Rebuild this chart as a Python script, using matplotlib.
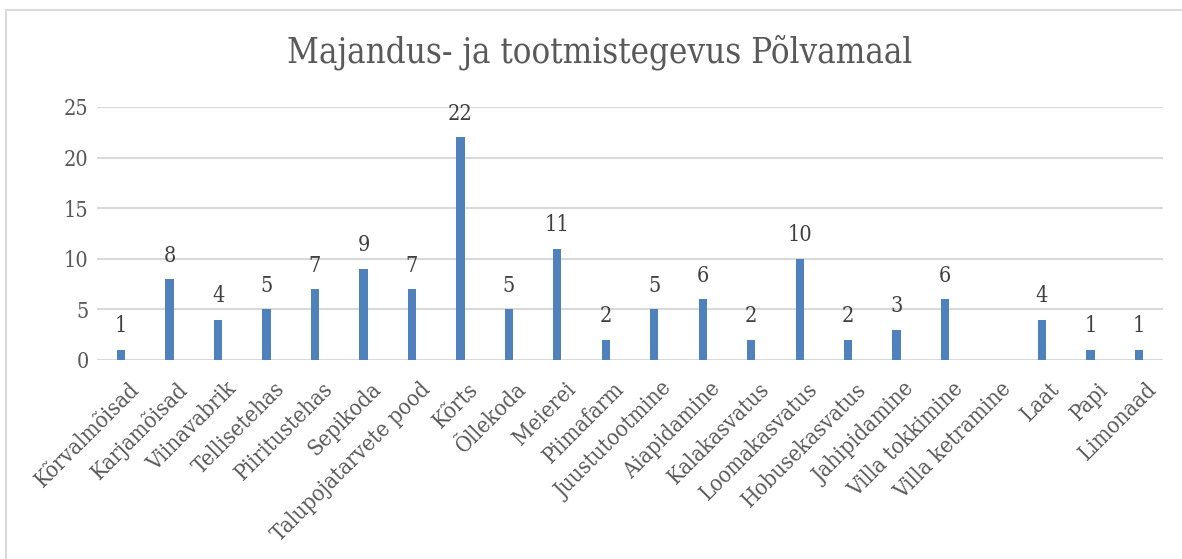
import matplotlib.pyplot as plt
from matplotlib.patches import Rectangle
from matplotlib.transforms import ScaledTranslation

categories = [
    "Kõrvalmõisad", "Karjamõisad", "Viinavabrik", "Tellisetehas", "Piiritustehas",
    "Sepikoda", "Talupojatarvete pood", "Kõrts", "Õllekoda", "Meierei", "Piimafarm",
    "Juustutootmine", "Aiapidamine", "Kalakasvatus", "Loomakasvatus", "Hobusekasvatus",
    "Jahipidamine", "Villa tokkimine", "Villa ketramine", "Laat", "Papi", "Limonaad",
]
counts = [1, 8, 4, 5, 7, 9, 7, 22, 5, 11, 2, 5, 6, 2, 10, 2, 3, 6, 0, 4, 1, 1]
yticks = [0, 5, 10, 15, 20, 25]

plt.rcParams["font.family"] = ["DejaVu Serif"]
plt.rcParams["font.stretch"] = "condensed"
text_color = "#595959"

fig = plt.figure(figsize=(11.82, 5.59), dpi=100)
ax = fig.add_axes([0.082, 0.356, 0.902, 0.4526])

x = list(range(len(categories)))
ax.bar(x, counts, width=0.17, color="#4f81bd", zorder=3)
for xi, v in zip(x, counts):
    if v > 0:
        ax.annotate(str(v), (xi, v), xytext=(0, 9), textcoords="offset points",
                    ha="center", va="bottom", fontsize=15.5, color="#404040")

ax.set_xlim(-0.5, len(categories) - 0.5)
ax.set_ylim(0, 25)
ax.set_yticks(yticks)
ax.yaxis.grid(True, color="#d9d9d9", linewidth=1.5, zorder=0)
ax.set_axisbelow(True)
for s in ax.spines.values():
    s.set_visible(False)
ax.tick_params(axis="both", length=0, colors=text_color, labelsize=15.5)
ax.tick_params(axis="y", pad=6)
ax.set_xticks(x)
ax.set_xticklabels(categories, rotation=45, ha="right", rotation_mode="anchor",
                   fontsize=16, color=text_color)
ax.tick_params(axis="x", pad=13)
# Excel puts the end of each slanted label a little right of its bar
shift = ScaledTranslation(7 / 100, 0, fig.dpi_scale_trans)
for lab in ax.get_xticklabels():
    lab.set_transform(lab.get_transform() + shift)

fig.text(600 / 1182, 0.907, "Majandus- ja tootmistegevus Põlvamaal", ha="center",
         va="center", fontsize=25, color=text_color)

fig.patches.append(Rectangle((6 / 1182, -0.05), 1.1, 1 - 10 / 559 + 0.05,
                             transform=fig.transFigure, fill=False,
                             edgecolor="#d9d9d9", linewidth=1.5))

fig.savefig("out.png", dpi=100, facecolor="white")
